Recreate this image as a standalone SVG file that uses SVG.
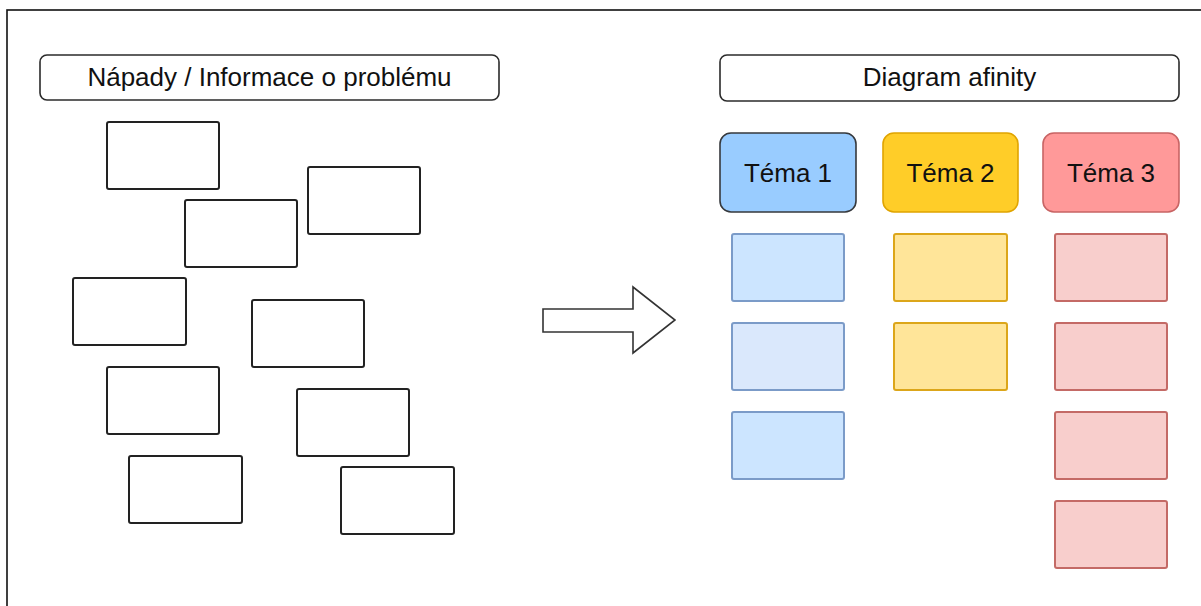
<svg xmlns="http://www.w3.org/2000/svg" width="1201" height="606" viewBox="0 0 1201 606">
  <style>
    .frame { fill: #ffffff; stroke: #111111; stroke-width: 1.6; }
    .title { fill: #ffffff; stroke: #2b2b2b; stroke-width: 1.6; }
    .note { fill: #ffffff; stroke: #222222; stroke-width: 2; }
    .label { font-family: "Liberation Sans", Arial, sans-serif; font-size: 26px; fill: #111111; text-anchor: middle; }
    .t1 { fill: #99ccff; stroke: #36393d; stroke-width: 1.6; }
    .t2 { fill: #ffcd28; stroke: #e0a400; stroke-width: 1.6; }
    .t3 { fill: #ff9999; stroke: #c86464; stroke-width: 1.6; }
    .b1 { fill: #cce5ff; stroke: #7b9bc8; stroke-width: 2; }
    .b1b { fill: #dae8fc; stroke: #7b9bc8; stroke-width: 2; }
    .y1 { fill: #ffe599; stroke: #dca61a; stroke-width: 2; }
    .r1 { fill: #f8cecc; stroke: #c46a66; stroke-width: 2; }
    .arrow { fill: #ffffff; stroke: #333333; stroke-width: 1.6; stroke-linejoin: miter; }
  </style>

  <!-- page frame, running past the right and bottom edges -->
  <rect class="frame" x="7" y="10" width="1210" height="610"/>

  <!-- left column: loose ideas -->
  <g id="ideas-title">
    <rect class="title" x="40" y="55" width="459" height="45" rx="7"/>
    <text class="label" x="269.5" y="86">Nápady / Informace o problému</text>
  </g>
  <g id="idea-1"><rect class="note" x="107" y="122" width="112" height="67" rx="2"/></g>
  <g id="idea-2"><rect class="note" x="185" y="200" width="112" height="67" rx="2"/></g>
  <g id="idea-3"><rect class="note" x="308" y="167" width="112" height="67" rx="2"/></g>
  <g id="idea-4"><rect class="note" x="73" y="278" width="113" height="67" rx="2"/></g>
  <g id="idea-5"><rect class="note" x="252" y="300" width="112" height="67" rx="2"/></g>
  <g id="idea-6"><rect class="note" x="107" y="367" width="112" height="67" rx="2"/></g>
  <g id="idea-7"><rect class="note" x="297" y="389" width="112" height="67" rx="2"/></g>
  <g id="idea-8"><rect class="note" x="129" y="456" width="113" height="67" rx="2"/></g>
  <g id="idea-9"><rect class="note" x="341" y="467" width="113" height="67" rx="2"/></g>

  <!-- transition arrow -->
  <g id="connectors">
    <polygon class="arrow" points="543,309 633,309 633,287 675,320 633,353 633,332 543,332"/>
  </g>

  <!-- right column: affinity diagram -->
  <g id="affinity-title">
    <rect class="title" x="720" y="55" width="459" height="46" rx="7"/>
    <text class="label" x="949.5" y="86">Diagram afinity</text>
  </g>

  <g id="theme-1">
    <rect class="t1" x="720" y="133" width="136" height="79" rx="11"/>
    <text class="label" x="788" y="182">Téma 1</text>
  </g>
  <g id="theme-2">
    <rect class="t2" x="883" y="133" width="135" height="79" rx="11"/>
    <text class="label" x="950.5" y="182">Téma 2</text>
  </g>
  <g id="theme-3">
    <rect class="t3" x="1043" y="133" width="136" height="79" rx="11"/>
    <text class="label" x="1111" y="182">Téma 3</text>
  </g>

  <g id="theme-1-item-1"><rect class="b1" x="732" y="234" width="112" height="67" rx="2"/></g>
  <g id="theme-1-item-2"><rect class="b1b" x="732" y="323" width="112" height="67" rx="2"/></g>
  <g id="theme-1-item-3"><rect class="b1" x="732" y="412" width="112" height="67" rx="2"/></g>

  <g id="theme-2-item-1"><rect class="y1" x="894" y="234" width="113" height="67" rx="2"/></g>
  <g id="theme-2-item-2"><rect class="y1" x="894" y="323" width="113" height="67" rx="2"/></g>

  <g id="theme-3-item-1"><rect class="r1" x="1055" y="234" width="112" height="67" rx="2"/></g>
  <g id="theme-3-item-2"><rect class="r1" x="1055" y="323" width="112" height="67" rx="2"/></g>
  <g id="theme-3-item-3"><rect class="r1" x="1055" y="412" width="112" height="67" rx="2"/></g>
  <g id="theme-3-item-4"><rect class="r1" x="1055" y="501" width="112" height="67" rx="2"/></g>
</svg>
